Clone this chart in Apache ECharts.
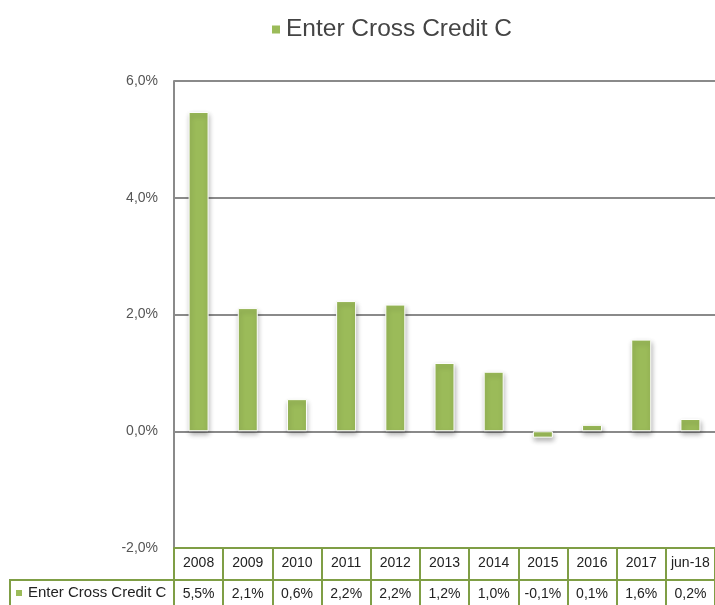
<!DOCTYPE html>
<html>
<head>
<meta charset="utf-8">
<script src="https://cdn.jsdelivr.net/npm/echarts@6/dist/echarts.min.js"></script>
<style>html,body{margin:0;padding:0;background:#fff}#c{width:715px;height:605px}</style>
</head>
<body>
<div id="c"></div>
<script>
var seriesName = 'Enter Cross Credit C';
var categories = ['2008','2009','2010','2011','2012','2013','2014','2015','2016','2017','jun-18'];
var values = [5.47, 2.11, 0.55, 2.23, 2.17, 1.17, 1.02, -0.11, 0.11, 1.57, 0.21];
var tableText = ['5,5%','2,1%','0,6%','2,2%','2,2%','1,2%','1,0%','-0,1%','0,1%','1,6%','0,2%'];
var yTicks = { min: -2, max: 6, interval: 2 };

var FONT = '"Liberation Sans", Arial, sans-serif';
var GREEN = '#9BBB59';
var TABLE = '#7F9E45';
var GRAY = '#8a8a8a';

var chart = echarts.init(document.getElementById('c'));
chart.setOption({
  backgroundColor: '#fff',
  animation: false,
  textStyle: { fontFamily: FONT },
  legend: {
    top: 12, left: 265,
    icon: 'rect', itemWidth: 10, itemHeight: 10, itemGap: 7,
    textStyle: { fontSize: 24.5, color: '#444', fontFamily: FONT },
    data: [seriesName]
  },
  grid: { left: 174, top: 81, width: 542, bottom: 57, containLabel: false },
  yAxis: {
    type: 'value', min: yTicks.min, max: yTicks.max, interval: yTicks.interval,
    axisLine: { show: true, lineStyle: { color: GRAY, width: 2 } },
    axisTick: { show: false },
    axisLabel: {
      margin: 16, fontSize: 14, color: '#555', fontFamily: FONT,
      formatter: function (v) { return v.toFixed(1).replace('.', ',') + '%'; }
    },
    splitLine: { show: true, lineStyle: { color: GRAY, width: 2 } }
  },
  xAxis: [{
    type: 'category', data: categories, position: 'bottom', boundaryGap: true,
    axisLine: { show: true, onZero: false, lineStyle: { color: TABLE, width: 2 } },
    axisTick: { show: true, interval: 0, length: 32, lineStyle: { color: TABLE, width: 2 } },
    axisLabel: { interval: 0, margin: 8, fontSize: 14, color: '#222', fontFamily: FONT }
  }, {
    type: 'category', data: categories, position: 'bottom', offset: 32, boundaryGap: true,
    axisLine: { show: true, onZero: false, lineStyle: { color: TABLE, width: 2 } },
    axisTick: { show: true, interval: 0, length: 32, lineStyle: { color: TABLE, width: 2 } },
    axisLabel: {
      interval: 0, margin: 7, fontSize: 14, color: '#222', fontFamily: FONT,
      formatter: function (v, i) { return tableText[i]; }
    }
  }],
  series: [{
    name: seriesName, type: 'bar', xAxisIndex: 0, data: values,
    barWidth: 20,
    itemStyle: {
      color: GREEN, borderColor: '#fff', borderWidth: 1,
      shadowColor: 'rgba(0,0,0,0.3)', shadowBlur: 5, shadowOffsetX: 1, shadowOffsetY: 3
    }
  }],
  graphic: [
    { type: 'polyline', shape: { points: [[10, 610], [10, 580], [174, 580]] },
      style: { stroke: TABLE, lineWidth: 2, fill: null } },
    { type: 'rect', shape: { x: 16, y: 590, width: 6, height: 6 }, style: { fill: GREEN } },
    { type: 'text', x: 28, y: 593, style: { text: seriesName, fontSize: 15, fill: '#222', fontFamily: FONT, verticalAlign: 'middle' } }
  ]
});
</script>
</body>
</html>
